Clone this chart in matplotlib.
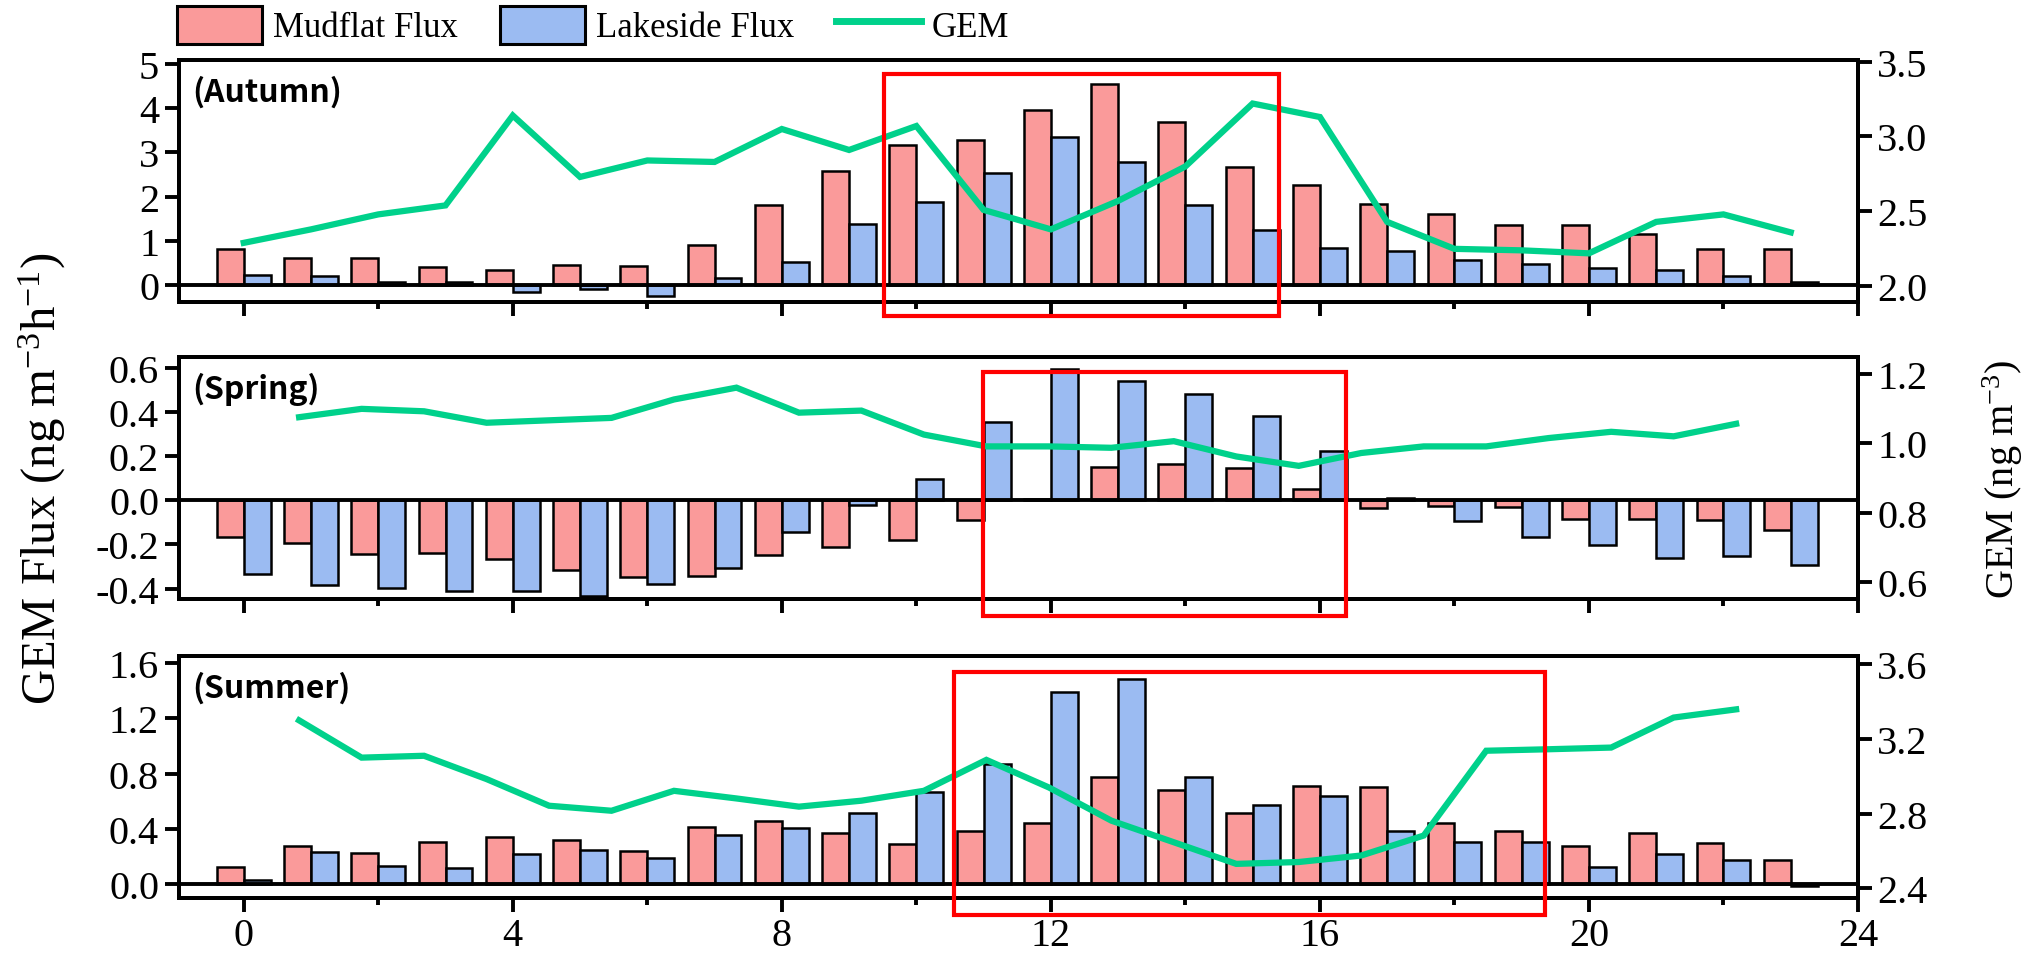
import numpy as np
import matplotlib.pyplot as plt
from matplotlib.lines import Line2D
from matplotlib.patches import Patch, Rectangle

plt.rcParams['font.family'] = ['Liberation Serif', 'DejaVu Serif']
plt.rcParams['mathtext.default'] = 'regular'
plt.rcParams['axes.unicode_minus'] = False

hours = np.arange(24)

# Autumn
autumn_mud = [0.81, 0.60, 0.60, 0.40, 0.33, 0.46, 0.43, 0.90, 1.81, 2.58, 3.17, 3.29,
              3.96, 4.54, 3.68, 2.66, 2.26, 1.84, 1.60, 1.36, 1.35, 1.14, 0.82, 0.82]
autumn_lake = [0.23, 0.19, 0.07, 0.07, -0.16, -0.10, -0.25, 0.16, 0.51, 1.38, 1.88, 2.54,
               3.35, 2.79, 1.80, 1.24, 0.83, 0.76, 0.56, 0.48, 0.39, 0.33, 0.19, 0.07]
autumn_gem = [2.29, 2.38, 2.48, 2.54, 3.14, 2.73, 2.84, 2.83, 3.05, 2.91, 3.07, 2.51,
              2.38, 2.57, 2.80, 3.22, 3.13, 2.43, 2.25, 2.24, 2.22, 2.43, 2.48, 2.36]

# Spring
spring_mud = [-0.167, -0.192, -0.242, -0.239, -0.265, -0.318, -0.348, -0.341, -0.250, -0.212, -0.182, -0.091,
              0.005, 0.152, 0.164, 0.144, 0.052, -0.033, -0.026, -0.030, -0.083, -0.083, -0.088, -0.133]
spring_lake = [-0.333, -0.383, -0.398, -0.409, -0.409, -0.435, -0.379, -0.308, -0.144, -0.023, 0.094, 0.353,
               0.595, 0.541, 0.480, 0.382, 0.222, 0.012, -0.094, -0.167, -0.202, -0.262, -0.253, -0.291]
spring_gem = [1.075, 1.099, 1.092, 1.059, 1.066, 1.073, 1.126, 1.160, 1.088, 1.094, 1.025, 0.991,
              0.991, 0.987, 1.006, 0.962, 0.935, 0.972, 0.991, 0.991, 1.015, 1.033, 1.020, 1.056]

# Summer
summer_mud = [0.121, 0.273, 0.222, 0.302, 0.338, 0.314, 0.239, 0.415, 0.458, 0.367, 0.285, 0.379,
              0.442, 0.772, 0.681, 0.512, 0.709, 0.700, 0.439, 0.379, 0.277, 0.367, 0.294, 0.169]
summer_lake = [0.024, 0.229, 0.128, 0.116, 0.217, 0.246, 0.187, 0.350, 0.403, 0.512, 0.664, 0.866,
               1.395, 1.484, 0.772, 0.574, 0.639, 0.386, 0.306, 0.306, 0.118, 0.217, 0.169, -0.017]
summer_gem = [3.300, 3.100, 3.110, 2.985, 2.842, 2.815, 2.922, 2.881, 2.837, 2.869, 2.922, 3.088,
              2.940, 2.762, 2.646, 2.530, 2.540, 2.575, 2.682, 3.137, 3.145, 3.154, 3.315, 3.359]

seasons = ['(Autumn)', '(Spring)', '(Summer)']
mud_data = [autumn_mud, spring_mud, summer_mud]
lake_data = [autumn_lake, spring_lake, summer_lake]
gem_data = [autumn_gem, spring_gem, summer_gem]

flux_ylim = [(-0.39, 5.09), (-0.447, 0.648), (-0.104, 1.653)]
flux_ticks = [np.arange(0, 5.1, 1), np.arange(-0.4, 0.61, 0.2), np.arange(0, 1.61, 0.4)]
flux_fmt = ['{:.0f}', '{:.1f}', '{:.1f}']
gem_ylim = [(1.895, 3.51), (0.552, 1.248), (2.347, 3.645)]
gem_ticks = [np.arange(2.0, 3.51, 0.5), np.arange(0.6, 1.21, 0.2), np.arange(2.4, 3.61, 0.4)]
gem_xlim = [(-0.97, 24), (-1.93, 24.95), (-1.93, 24.95)]
# highlighted periods: (x0, x1, y0, y1) in flux units
boxes = [(9.52, 15.39, -0.70, 4.77), (10.99, 16.39, -0.523, 0.579), (10.56, 19.34, -0.224, 1.537)]

c_mud = '#FA9A9A'
c_lake = '#9BBBF2'
c_gem = '#00D18B'
fs = 29
lw_frame = 2.8

fig = plt.figure(figsize=(20.31, 9.62), dpi=100)
bottoms = [0.685, 0.3763, 0.0655]
height = 0.2515
left, width = 0.0879, 0.8269

for i in range(3):
    ax = fig.add_axes([left, bottoms[i], width, height])
    ax.bar(hours - 0.2, mud_data[i], width=0.4, color=c_mud, edgecolor='black', linewidth=1.8, zorder=2)
    ax.bar(hours + 0.2, lake_data[i], width=0.4, color=c_lake, edgecolor='black', linewidth=1.8, zorder=2)
    ax.axhline(0, color='black', linewidth=lw_frame, zorder=3)
    ax.set_xlim(-0.97, 24)
    ax.set_ylim(*flux_ylim[i])
    ax.set_yticks(flux_ticks[i])
    ax.set_yticklabels([flux_fmt[i].format(v) for v in flux_ticks[i]])
    ax.set_xticks(range(0, 25, 4))
    ax.set_xticks(range(2, 24, 4), minor=True)
    ax.tick_params(which='major', direction='out', length=10, width=lw_frame, labelsize=fs, pad=4)
    ax.tick_params(which='minor', direction='out', length=5, width=lw_frame)
    if i < 2:
        ax.tick_params(labelbottom=False)
    for s in ax.spines.values():
        s.set_linewidth(lw_frame)
    ax.text(0.008, 0.87, seasons[i], transform=ax.transAxes, ha='left', va='center',
            fontsize=23, fontweight='bold', family=['Noto Sans CJK SC', 'DejaVu Sans'])

    axr = ax.twinx()
    axr.set_ylim(*gem_ylim[i])
    axr.set_yticks(gem_ticks[i])
    axr.set_yticklabels(['{:.1f}'.format(v) for v in gem_ticks[i]])
    axr.tick_params(direction='out', length=10, width=lw_frame, labelsize=fs, pad=4)
    for s in axr.spines.values():
        s.set_linewidth(lw_frame)

    axg = axr.twiny()
    axg.set_xlim(*gem_xlim[i])
    axg.xaxis.set_visible(False)
    for s in axg.spines.values():
        s.set_visible(False)
    axg.plot(hours, gem_data[i], color=c_gem, linewidth=4.5, solid_joinstyle='miter')

    x0, x1, y0, y1 = boxes[i]
    fig.add_artist(Rectangle((x0, y0), x1 - x0, y1 - y0, transform=ax.transData, fill=False,
                             edgecolor='red', linewidth=3, zorder=10, clip_on=False))

    if i == 1:
        ax.set_ylabel('GEM Flux (ng m$^{-3}$h$^{-1}$)', fontsize=35)
        ax.yaxis.set_label_coords(-0.066, 0.5)
        axr.set_ylabel('GEM (ng m$^{-3}$)', fontsize=29)
        axr.yaxis.set_label_coords(1.073, 0.5)

handles = [Patch(facecolor=c_mud, edgecolor='black', linewidth=2.2),
           Patch(facecolor=c_lake, edgecolor='black', linewidth=2.2),
           Line2D([], [], color=c_gem, linewidth=5)]
fig.legend(handles, ['Mudflat Flux', 'Lakeside Flux', 'GEM'], loc='center left',
           bbox_to_anchor=(0.0871, 0.973), ncol=3, frameon=False, fontsize=25,
           handlelength=2.45, handleheight=1.33, handletextpad=0.32, columnspacing=1.2,
           borderpad=0, borderaxespad=0)

fig.savefig('out.png', dpi=100)
